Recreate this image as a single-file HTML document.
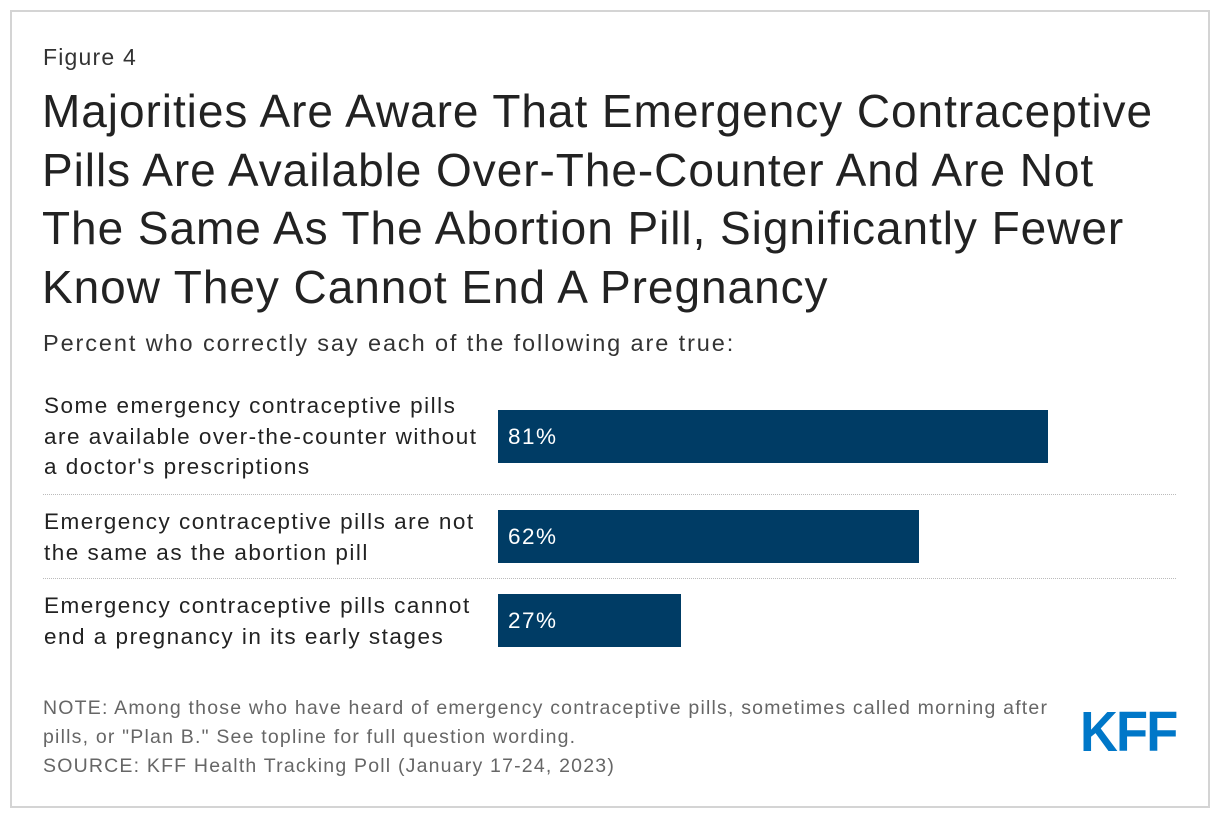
<!DOCTYPE html>
<html><head><meta charset="utf-8"><style>
body{margin:0;width:1220px;height:822px;background:#fff;font-family:"Liberation Sans",Arial,sans-serif;position:relative;overflow:hidden}
.frame{position:absolute;left:10px;top:10px;width:1196px;height:794px;border:2px solid #d4d4d4}
.abs{position:absolute;white-space:nowrap}
.fig{left:43px;top:44px;font-size:23px;color:#333;letter-spacing:1.2px}
.title{left:42px;top:82px;font-size:46px;line-height:58.5px;color:#222;letter-spacing:0.95px}
.sub{left:43px;top:330px;font-size:23.5px;color:#333;letter-spacing:1.9px}
.lab{left:44px;font-size:22.5px;line-height:30.5px;color:#222;letter-spacing:1.5px}
.bar{position:absolute;background:#003c65;height:53px}
.bar span{position:absolute;left:10px;top:14px;color:#fff;font-size:22.5px;letter-spacing:1.5px}
.sep{position:absolute;left:43px;width:1133px;border-top:1.5px dotted #bbb;height:0}
.note{left:43px;top:694px;font-size:19.5px;line-height:29px;color:#666;letter-spacing:1.2px}
.logo{left:1080px;top:699px;font-size:57px;font-weight:bold;color:#0077c8;letter-spacing:-2px;transform:scaleX(0.92);transform-origin:left}
</style></head><body>
<div class="frame"></div>
<div class="abs fig">Figure 4</div>
<div class="abs title">Majorities Are Aware That Emergency Contraceptive<br>Pills Are Available Over-The-Counter And Are Not<br>The Same As The Abortion Pill, Significantly Fewer<br>Know They Cannot End A Pregnancy</div>
<div class="abs sub">Percent who correctly say each of the following are true:</div>
<div class="abs lab" style="top:391px">Some emergency contraceptive pills<br>are available over-the-counter without<br>a doctor's prescriptions</div>
<div class="abs lab" style="top:507px">Emergency contraceptive pills are not<br>the same as the abortion pill</div>
<div class="abs lab" style="top:591px">Emergency contraceptive pills cannot<br>end a pregnancy in its early stages</div>
<div class="sep" style="top:494px"></div>
<div class="sep" style="top:578px"></div>
<div id="bars"></div>
<div class="abs note">NOTE: Among those who have heard of emergency contraceptive pills, sometimes called morning after<br>pills, or "Plan B." See topline for full question wording.<br>SOURCE: KFF Health Tracking Poll (January 17-24, 2023)</div>
<div class="abs logo">KFF</div>
<script>
const categories = ["Available OTC", "Not the abortion pill", "Cannot end pregnancy"];
const values = [81, 62, 27];
const valueLabels = ["81%", "62%", "27%"];
const x0 = 498, pxPer = 550 / 81;
function xScale(v){ return v * pxPer; }
const rowTops = [410, 510, 594];
const host = document.getElementById('bars');
values.forEach((v, i) => {
  const b = document.createElement('div');
  b.className = 'bar';
  
  
  b.style.left = x0 + 'px';
  b.style.top = rowTops[i] + 'px';
  b.style.width = xScale(v) + 'px';
  const s = document.createElement('span');
  
  
  s.textContent = valueLabels[i];
  b.appendChild(s);
  host.appendChild(b);
});
</script>
</body></html>
